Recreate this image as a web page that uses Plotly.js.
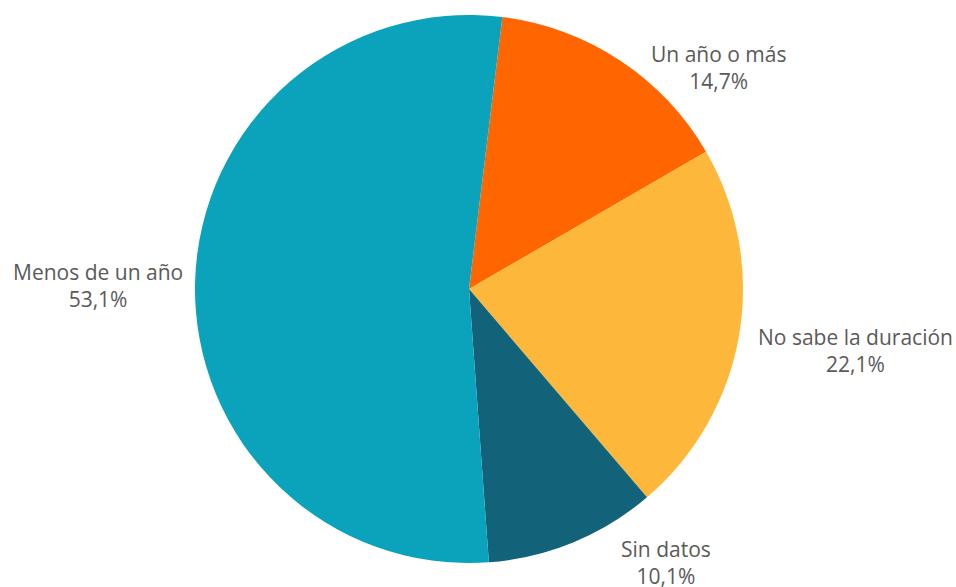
<!DOCTYPE html>
<html>
<head>
<meta charset="utf-8">
<script src="https://cdn.plot.ly/plotly-3.0.1.min.js"></script>
<style>html,body{margin:0;padding:0;background:#fff;}#chart{width:956px;height:587px;}</style>
</head>
<body>
<div id="chart"></div>
<script>
const categories = ["Un año o más", "No sabe la duración", "Sin datos", "Menos de un año"];
const shares = [14.7, 22.1, 10.1, 53.1];
const sliceColors = ["#FF6600", "#FDB73A", "#12627A", "#0AA3BB"];

// label placement (pixel centres in the 956x587 page)
const labelPx = [[719, 68], [855, 350], [666, 562], [98, 286]];

const W = 956, H = 587;
const labelFont = {family: "'Open Sans', Roboto, sans-serif", size: 21, color: "#5a5a5a"};

const trace = {
  type: "pie",
  labels: categories,
  values: shares,
  sort: false,
  direction: "clockwise",
  rotation: 7,
  domain: {x: [0, 938 / W], y: [24 / H, 572 / H]},
  marker: {colors: sliceColors, line: {color: "#ffffff", width: 0}},
  textinfo: "none",
  hoverinfo: "label+percent"
};

const annotations = categories.map((c, i) => ({
  xref: "paper", yref: "paper",
  x: labelPx[i][0] / W, y: 1 - labelPx[i][1] / H,
  xanchor: "center", yanchor: "middle",
  text: c + "<br>" + shares[i].toFixed(1).replace(".", ",") + "%",
  showarrow: false,
  align: "center",
  font: labelFont
}));

const layout = {
  width: W, height: H,
  margin: {l: 0, r: 0, t: 0, b: 0},
  showlegend: false,
  separators: ",.",
  annotations: annotations,
  paper_bgcolor: "#ffffff",
  plot_bgcolor: "#ffffff"
};

Plotly.newPlot("chart", [trace], layout, {displayModeBar: false, staticPlot: true});
</script>
</body>
</html>
